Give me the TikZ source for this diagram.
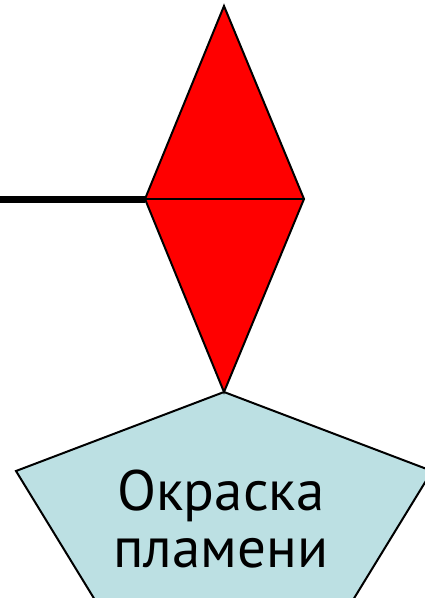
\documentclass[tikz,border=0pt]{standalone}
\usepackage{fontspec}
\newfontfamily\labelfont{PT Sans}
\usetikzlibrary{positioning}
\definecolor{flamered}{RGB}{255,0,0}
\definecolor{paleblue}{RGB}{188,224,227}

\begin{document}
\begin{tikzpicture}[x=1pt,y=-1pt,
  part/.style={draw=black,line width=2pt,line join=miter,fill=flamered},
  pent/.style={draw=black,line width=2pt,line join=miter,fill=paleblue},
  stem/.style={black,line width=7pt},
  lbl/.style={font=\labelfont\fontsize{57}{57}\selectfont,align=center,inner sep=0pt}
]
\useasboundingbox (0,0) rectangle (424,598);
\coordinate (top)   at (224,6);
\coordinate (left)  at (145,199);
\coordinate (right) at (304,199);
\coordinate (tip)   at (224,392);
\coordinate (start) at (-5,199);
% pentagon below the tip
\draw[pent] (tip) -- (432,471) -- (353,600) -- (95,600) -- (16,471) -- cycle;
\draw[part] (top) -- (right) -- (tip) -- (left) -- cycle;
\draw[black,line width=1.5pt] (left) -- (right);
\draw[stem] (start) -- (left);
\node[lbl] (name) at (221,519) {Окраска\\пламени};
\end{tikzpicture}
\end{document}
